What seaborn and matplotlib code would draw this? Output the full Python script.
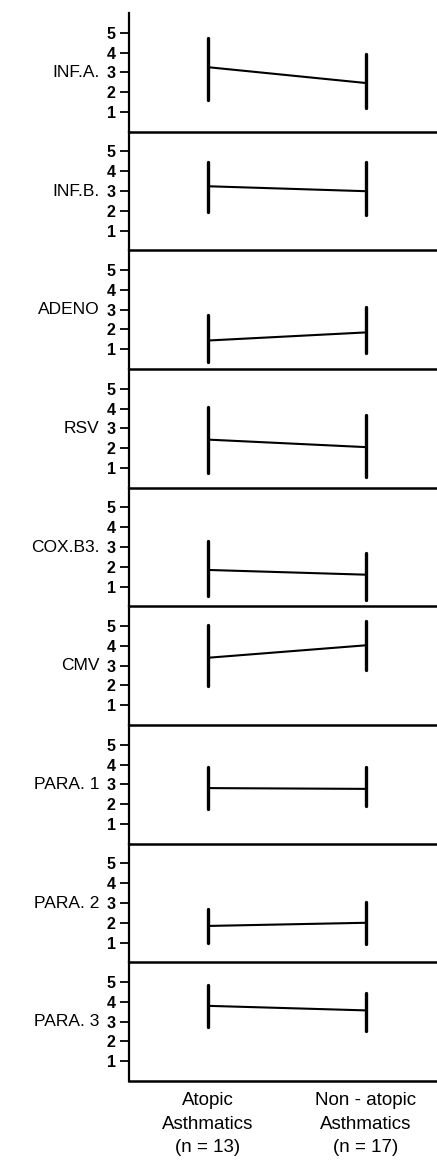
import numpy as np
import pandas as pd
import matplotlib
matplotlib.use("Agg")
import matplotlib.pyplot as plt
import matplotlib.transforms as mtransforms
import seaborn as sns

viruses = ["INF.A.", "INF.B.", "ADENO", "RSV", "COX.B3.", "CMV", "PARA. 1", "PARA. 2", "PARA. 3"]
groups = ["Atopic\nAsthmatics\n(n = 13)", "Non - atopic\nAsthmatics\n(n = 17)"]
atopic_mean = [3.26, 3.24, 1.44, 2.43, 1.84, 3.40, 2.81, 1.84, 3.80]
atopic_low = [1.59, 1.95, 0.34, 0.76, 0.51, 1.96, 1.74, 0.97, 2.73]
atopic_high = [4.72, 4.47, 2.71, 4.07, 3.28, 5.06, 3.87, 2.68, 4.86]
nonatopic_mean = [2.46, 2.99, 1.85, 2.05, 1.60, 4.03, 2.77, 2.00, 3.57]
nonatopic_low = [1.20, 1.78, 0.80, 0.56, 0.34, 2.76, 1.91, 0.92, 2.51]
nonatopic_high = [3.91, 4.47, 3.13, 3.68, 2.70, 5.27, 3.87, 3.06, 4.44]
yticks = [1, 2, 3, 4, 5]

rows = []
for i, v in enumerate(viruses):
    for g, lo, mu, hi in [(groups[0], atopic_low, atopic_mean, atopic_high),
                          (groups[1], nonatopic_low, nonatopic_mean, nonatopic_high)]:
        for val in (lo[i], mu[i], hi[i]):
            rows.append({"virus": v, "group": g, "value": val})
df = pd.DataFrame(rows)

sns.set_style("ticks")
plt.rcParams["font.family"] = ["Liberation Sans", "DejaVu Sans"]
plt.rcParams["text.color"] = "black"
plt.rcParams["xtick.color"] = "black"
plt.rcParams["ytick.color"] = "black"
plt.rcParams["axes.edgecolor"] = "black"

W, H = 437, 1163
fig = plt.figure(figsize=(W / 100, H / 100), dpi=100)
axes = fig.subplots(len(viruses), 1, sharex=True)
fig.subplots_adjust(left=129 / W, right=1.0, top=1 - 13 / H, bottom=1 - 1081 / H, hspace=0)

for ax, v in zip(axes, viruses):
    sub = df[df["virus"] == v]
    sns.pointplot(data=sub, x="group", y="value", order=groups, estimator="median",
                  errorbar=("pi", 100), color="black", marker="", linewidth=1.5,
                  err_kws={"linewidth": 2.4}, capsize=0, ax=ax)
    ax.patch.set_visible(False)
    ax.set_ylim(0, 6)
    ax.set_xlim(-0.5, 1.45)
    ax.set_yticks(yticks)
    ax.set_yticklabels([str(t) for t in yticks], fontsize=11.5, fontweight="bold")
    ax.tick_params(axis="y", direction="out", length=6.5, width=1.3, pad=3, colors="black")
    ax.tick_params(axis="x", length=0)
    ax.set_xlabel("")
    ax.set_ylabel("")
    for s in ("top", "right"):
        ax.spines[s].set_visible(False)
    ax.spines["left"].set_linewidth(1.6)
    ax.spines["bottom"].set_linewidth(1.8)
    ax.spines["left"].set_color("black")
    ax.spines["bottom"].set_color("black")
    ax.spines["bottom"].set_zorder(5)
    trans = mtransforms.blended_transform_factory(ax.transAxes, ax.transData)
    ax.text(-0.095, 3, v, transform=trans, ha="right", va="center", fontsize=12.5, color="black")

last = axes[-1]
last.set_xticks([0, 1])
last.set_xticklabels(groups, fontsize=13.5, linespacing=1.5)
last.tick_params(axis="x", length=0, pad=8)

fig.savefig("out.png", dpi=100)
